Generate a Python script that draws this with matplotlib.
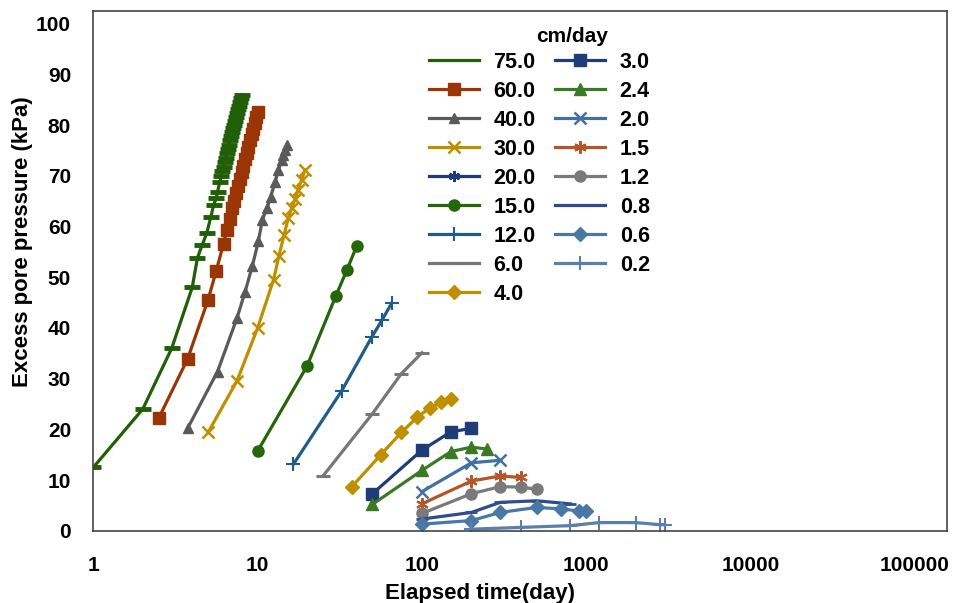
import matplotlib.pyplot as plt

plt.rcParams['font.family'] = ['Liberation Sans', 'DejaVu Sans']
plt.rcParams['font.weight'] = 'bold'

# elapsed time (day) / excess pore pressure (kPa)
t_v75 = [1, 2, 3, 4, 4.3, 4.6, 4.9, 5.2, 5.4, 5.6, 5.7, 5.9,
         6.0, 6.1, 6.2, 6.3, 6.4, 6.5, 6.6, 6.7, 6.8, 6.9, 7.0,
         7.1, 7.2, 7.3, 7.4, 7.5, 7.6, 7.7, 7.8, 7.9, 8.0]
p_v75 = [12.5, 24.0, 36.0, 48.0, 53.8, 56.4, 58.7, 62.0, 64.3, 65.6, 66.9, 68.9,
         70.0, 70.9, 71.8, 72.7, 73.6, 74.5, 75.3, 76.2, 77.0, 77.8, 78.6,
         79.4, 80.1, 80.9, 81.7, 82.4, 83.2, 83.9, 84.6, 85.3, 86.0]

t_v60 = [2.5, 3.75, 5, 5.6, 6.2, 6.5, 6.75, 7.0, 7.2, 7.4, 7.6, 7.8,
         8.0, 8.2, 8.4, 8.6, 8.8, 9.0, 9.2, 9.4, 9.6, 9.8, 10.0]
p_v60 = [22.2, 33.9, 45.6, 51.3, 56.6, 59.4, 61.5, 63.6, 65.1, 66.6, 68.0, 69.4,
         70.7, 72.0, 73.3, 74.6, 75.8, 77.0, 78.2, 79.3, 80.5, 81.6, 82.7]

t_v40 = [3.75, 5.7, 7.5, 8.4, 9.3, 10.1, 10.7, 11.4, 12.0, 12.8, 13.4, 14.0, 14.3, 14.6, 15.0]
p_v40 = [20.2, 31.4, 42.0, 47.2, 52.3, 57.1, 61.4, 63.6, 65.9, 68.9, 71.2, 73.2, 74.2, 75.2, 76.1]

t_v30 = [5, 7.5, 10, 12.5, 13.5, 14.5, 15.4, 16.1, 16.9, 17.7, 18.5, 19.4]
p_v30 = [19.4, 29.6, 40.0, 49.5, 54.3, 58.4, 61.8, 63.6, 65.4, 67.3, 69.2, 71.2]

t_v20 = []
p_v20 = []

t_v15 = [10, 20, 30, 35, 40]
p_v15 = [15.7, 32.5, 46.4, 51.5, 56.1]

t_v12 = [16.5, 32.5, 49.5, 57, 65.5]
p_v12 = [13.1, 27.6, 38.2, 41.5, 44.9]

t_v6 = [25, 50, 75, 100]
p_v6 = [10.8, 23.1, 31.0, 35.1]

t_v4 = [37.5, 56.25, 75, 93.75, 112.5, 131.25, 150]
p_v4 = [8.7, 15.0, 19.4, 22.4, 24.3, 25.3, 25.9]

t_v3 = [50, 100, 150, 200]
p_v3 = [7.3, 15.9, 19.5, 20.2]

t_v2_4 = [50, 100, 150, 200, 250]
p_v2_4 = [5.2, 11.9, 15.6, 16.5, 16.1]

t_v2 = [100, 200, 300]
p_v2 = [7.7, 13.4, 13.9]

t_v1_5 = [100, 200, 300, 400]
p_v1_5 = [5.3, 9.8, 10.8, 10.5]

t_v1_2 = [100, 200, 300, 400, 500]
p_v1_2 = [3.4, 7.3, 8.7, 8.6, 8.2]

t_v0_8 = [100, 200, 300, 500, 800]
p_v0_8 = [2.3, 3.6, 5.6, 5.9, 5.3]

t_v0_6 = [100, 200, 300, 500, 700, 900, 1000]
p_v0_6 = [1.3, 2.0, 3.6, 4.6, 4.3, 3.9, 3.8]

t_v0_2 = [200, 400, 800, 1200, 2000, 2800, 3000]
p_v0_2 = [0.3, 0.65, 1.0, 1.6, 1.6, 1.2, 1.2]

labels = ['75.0', '60.0', '40.0', '30.0', '20.0', '15.0', '12.0', '6.0', '4.0',
          '3.0', '2.4', '2.0', '1.5', '1.2', '0.8', '0.6', '0.2']
times = [t_v75, t_v60, t_v40, t_v30, t_v20, t_v15, t_v12, t_v6, t_v4,
         t_v3, t_v2_4, t_v2, t_v1_5, t_v1_2, t_v0_8, t_v0_6, t_v0_2]
pressures = [p_v75, p_v60, p_v40, p_v30, p_v20, p_v15, p_v12, p_v6, p_v4,
             p_v3, p_v2_4, p_v2, p_v1_5, p_v1_2, p_v0_8, p_v0_6, p_v0_2]

# colour, marker, marker size, marker edge width
styles = [
    ('#215e08', '_', 11, 3.5),
    ('#9a3606', 's', 8, 1),
    ('#5a5a5a', '^', 7, 1),
    ('#bf8f00', 'x', 8, 1.8),
    ('#1f3a78', (6, 2, 0), 8, 1.5),
    ('#26660a', 'o', 8, 1),
    ('#1f5c8a', '+', 10, 1.5),
    ('#777777', '_', 10, 2.2),
    ('#bf8f00', 'D', 7, 1),
    ('#1f3c78', 's', 8, 1),
    ('#3b7a24', '^', 8, 1),
    ('#41719c', 'x', 9, 1.8),
    ('#b5562a', (6, 2, 0), 9, 1.5),
    ('#7a7a7a', 'o', 8, 1),
    ('#2f4d8c', '_', 8, 2),
    ('#4a78a5', 'D', 7, 1),
    ('#5a80aa', '+', 10, 1.5),
]

fig = plt.figure(figsize=(9.56, 6.03), dpi=100)
ax = fig.add_axes([0.0976, 0.1199, 0.8927, 0.8614])

handles = []
for lab, t, p, (c, m, ms, mew) in zip(labels, times, pressures, styles):
    h, = ax.plot(t, p, color=c, lw=2.3, marker=m, markersize=ms,
                 markerfacecolor=c, markeredgecolor=c, markeredgewidth=mew,
                 label=lab)
    handles.append(h)

ax.set_xscale('log')
ax.set_xlim(1, 10 ** 5.194)
ax.set_ylim(0, 102.5)
ax.set_yticks(range(0, 101, 10))
ax.set_xticks([1, 10, 100, 1000, 10000, 100000])
ax.set_xticklabels(['1', '10', '100', '1000', '10000', '100000'])
ax.minorticks_off()
ax.tick_params(axis='both', length=0, labelsize=15)
ax.tick_params(axis='x', pad=18)
ax.tick_params(axis='y', pad=16)
for s in ax.spines.values():
    s.set_color('#444444')
    s.set_linewidth(1.2)

ax.set_xlabel('Elapsed time(day)', fontsize=16, fontweight='bold', va='center')
ax.set_ylabel('Excess pore pressure (kPa)', fontsize=16, fontweight='bold', va='center')
ax.xaxis.set_label_coords(0.453, -0.12)
ax.yaxis.set_label_coords(-0.0835, 0.557)

leg = ax.legend(handles=handles, ncol=2, frameon=False, fontsize=15.5,
                loc='upper left', bbox_to_anchor=(429 / 956, 1 - 52 / 603),
                bbox_transform=fig.transFigure, borderpad=0, borderaxespad=0,
                handlelength=2.3, handletextpad=0.7, columnspacing=0.9,
                labelspacing=0.37)
# dash markers vanish into the line in the legend
for line in leg.get_lines():
    if line.get_marker() == '_':
        line.set_marker('None')
fig.text(572 / 956, 1 - 36 / 603, 'cm/day', ha='center', va='center',
         fontsize=15, fontweight='bold')

fig.savefig('out.png', dpi=100)
